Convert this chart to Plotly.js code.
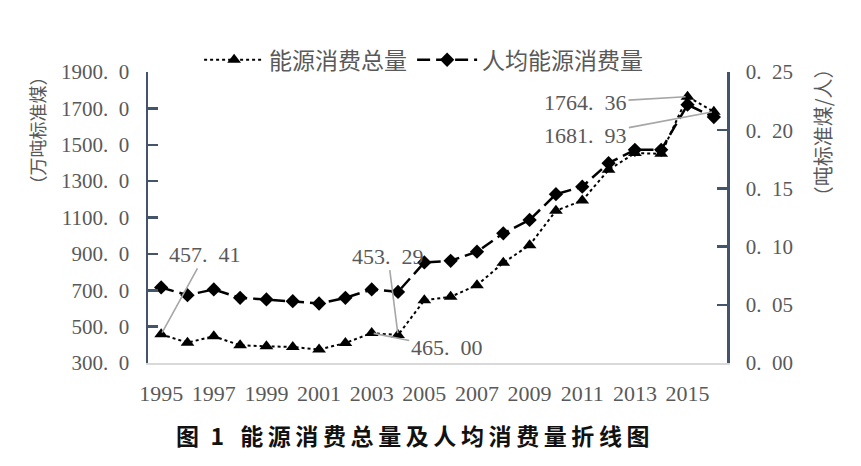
<!DOCTYPE html>
<html>
<head>
<meta charset="utf-8">
<script src="https://cdn.plot.ly/plotly-3.0.1.min.js"></script>
<style>
  html, body { margin: 0; padding: 0; background: #fff; }
  #chart { width: 861px; height: 466px; }
</style>
</head>
<body>
<div id="chart"></div>
<script>
// ---- data ----
const years = ["1995","1996","1997","1998","1999","2000","2001","2002","2003","2004","2005",
               "2006","2007","2008","2009","2010","2011","2012","2013","2014","2015","2016"];

// 能源消费总量 (万吨标准煤)
const totalEnergy = [457.41, 412, 447, 397, 392, 388, 374, 410, 465.00, 453.29, 645,
                     664, 728, 851, 948, 1137, 1193, 1362, 1454, 1450, 1764.36, 1681.93];

// 人均能源消费量 (吨标准煤/人)
const perCapita = [0.0649, 0.0583, 0.0632, 0.0560, 0.0546, 0.0531, 0.0511, 0.0560, 0.0632, 0.0611, 0.0864,
                   0.0878, 0.0956, 0.1114, 0.1229, 0.1450, 0.1515, 0.1717, 0.1831, 0.1831, 0.2219, 0.2113];

const leftTicks  = [300, 500, 700, 900, 1100, 1300, 1500, 1700, 1900];
const rightTicks = [0, 0.05, 0.10, 0.15, 0.20, 0.25];
const xTickYears = years.filter((y, i) => i % 2 === 0);

// labelled points: year -> label offset (px)
const labelled = [
  { year: "1995", ax: 44,   ay: -80 },
  { year: "2003", ax: 75,   ay: 15 },
  { year: "2004", ax: -10,  ay: -79 },
  { year: "2015", ax: -102, ay: 6 },
  { year: "2016", ax: -128, ay: 24 }
];

const SERIF = "Liberation Serif, Times New Roman, serif";
const CJK   = "Noto Sans CJK SC, sans-serif";
const GREY  = "#595959";
const AXIS  = "#44546A";

// "1900.0" -> "1900. 0" look of the original
const spaced = s => s.replace(".", ".\u2002");

// caption is letter-spaced in the original
const caption = "图\u20021\u2002\u2009" +
                "能源消费总量及人均消费量折线图".split("").join("\u2009");

const traces = [
  {
    name: "能源消费总量",
    x: years, y: totalEnergy,
    type: "scatter", mode: "lines+markers",
    line: { color: "#000", width: 2, dash: "dot" },
    marker: { symbol: "triangle-up", size: 12, color: "#000" },
    yaxis: "y"
  },
  {
    name: "人均能源消费量",
    x: years, y: perCapita,
    type: "scatter", mode: "lines+markers",
    line: { color: "#000", width: 2.5, dash: "13px,6px" },
    marker: { symbol: "diamond", size: 11, color: "#000" },
    yaxis: "y2"
  }
];

const annotations = labelled.map(l => {
  const i = years.indexOf(l.year);
  return {
    x: i, y: totalEnergy[i], xref: "x", yref: "y",
    text: spaced(totalEnergy[i].toFixed(2)),
    showarrow: true, arrowhead: 0, arrowwidth: 1.6, arrowcolor: "#a6a6a6",
    standoff: 2, ax: l.ax, ay: l.ay,
    font: { family: SERIF, size: 22, color: GREY }
  };
});

annotations.push(
  {
    text: "（万吨标准煤）", xref: "paper", yref: "paper",
    x: -0.1924, y: 0.798, xanchor: "center", yanchor: "middle",
    textangle: -90, showarrow: false,
    font: { family: CJK, size: 18, color: GREY }
  },
  {
    text: "（吨标准煤/人）", xref: "paper", yref: "paper",
    x: 1.1665, y: 0.794, xanchor: "center", yanchor: "middle",
    textangle: -90, showarrow: false,
    font: { family: CJK, size: 20, color: GREY }
  },
  {
    text: "<b>" + caption + "</b>", xref: "paper", yref: "paper",
    x: 0.458, y: -0.248, xanchor: "center", yanchor: "middle", showarrow: false,
    font: { family: CJK, size: 23, color: "#111" }
  }
);

const layout = {
  width: 861, height: 466,
  margin: { l: 148, r: 134, t: 72, b: 103 },
  paper_bgcolor: "#fff", plot_bgcolor: "#fff",
  showlegend: true,
  legend: {
    orientation: "h", x: 0.476, xanchor: "center", y: 1.042, yanchor: "middle",
    font: { family: CJK, size: 23, color: GREY },
    itemwidth: 60, tracegroupgap: 0
  },
  xaxis: {
    type: "category",
    range: [-0.5, years.length - 0.5],
    tickvals: xTickYears, ticktext: xTickYears,
    tickangle: 0,
    showgrid: false, zeroline: false,
    showline: true, linecolor: "#d9d9d9", linewidth: 2,
    ticks: "", ticklabelstandoff: 10,
    tickfont: { family: SERIF, size: 22, color: GREY }
  },
  yaxis: {
    range: [300, 1900],
    tickvals: leftTicks, ticktext: leftTicks.map(v => spaced(v.toFixed(1))),
    showgrid: false, zeroline: false,
    showline: true, linecolor: AXIS, linewidth: 2.5,
    ticks: "inside", ticklen: 10, tickwidth: 2.5, tickcolor: AXIS,
    ticklabelstandoff: 12,
    tickfont: { family: SERIF, size: 21, color: GREY }
  },
  yaxis2: {
    range: [0, 0.25], overlaying: "y", side: "right",
    tickvals: rightTicks, ticktext: rightTicks.map(v => spaced(v.toFixed(2))),
    showgrid: false, zeroline: false,
    showline: true, linecolor: AXIS, linewidth: 2.5,
    ticks: "inside", ticklen: 10, tickwidth: 2.5, tickcolor: AXIS,
    ticklabelstandoff: 12,
    tickfont: { family: SERIF, size: 21, color: GREY }
  },
  annotations: annotations
};

Plotly.newPlot("chart", traces, layout, { displayModeBar: false, staticPlot: true });
</script>
</body>
</html>
